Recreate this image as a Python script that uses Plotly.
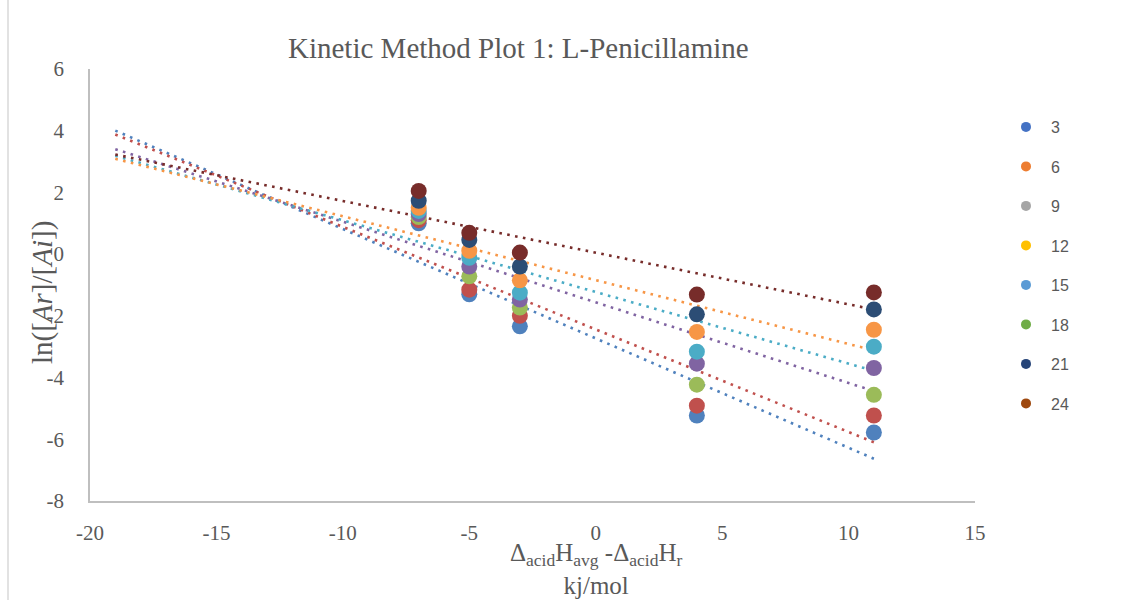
import numpy as np
import plotly.graph_objects as go

x_vals = [-7, -5, -3, 4, 11]
series_names = ["3", "6", "9", "12", "15", "18", "21", "24"]
y_3 = [1.00, -1.30, -2.34, -5.23, -5.78]
y_6 = [1.10, -1.15, -2.00, -4.91, -5.23]
y_9 = [1.20, -0.72, -1.73, -4.23, -4.56]
y_12 = [1.30, -0.40, -1.47, -3.55, -3.69]
y_15 = [1.40, -0.12, -1.25, -3.16, -3.00]
y_18 = [1.50, 0.11, -0.85, -2.52, -2.45]
y_21 = [1.73, 0.46, -0.40, -1.95, -1.79]
y_24 = [2.05, 0.69, 0.05, -1.31, -1.24]
series_y = [y_3, y_6, y_9, y_12, y_15, y_18, y_21, y_24]

x_ticks = [-20, -15, -10, -5, 0, 5, 10, 15]
x_ticktext = ["-20", "-15", "-10", "-5", "0", "5", "10", "15"]
y_ticks = [-8, -6, -4, -2, 0, 2, 4, 6]
y_ticktext = ["-8", "-6", "-4", "-2", "0", "2", "4", "6"]

marker_colors = ["#4F81BD", "#C0504D", "#9BBB59", "#8064A2", "#4BACC6", "#F79646", "#2C4D75", "#772C2A"]
legend_colors = ["#4472C4", "#ED7D31", "#A5A5A5", "#FFC000", "#5B9BD5", "#70AD47", "#264478", "#9E480E"]
has_trend = [True, True, False, True, True, True, False, True]
trend_x = [-19, 11]

fig = go.Figure()

# trendlines (linear fit, extended backward)
for ys, col, t in zip(series_y, marker_colors, has_trend):
    if not t:
        continue
    slope, intercept = np.polyfit(x_vals, ys, 1)
    tx = np.array(trend_x, dtype=float)
    fig.add_trace(go.Scatter(x=tx, y=slope * tx + intercept, mode="lines",
                             line=dict(color=col, width=2.6, dash="2.6px,5.4px"),
                             showlegend=False, hoverinfo="skip"))

for name, ys, col in zip(series_names, series_y, marker_colors):
    fig.add_trace(go.Scatter(x=x_vals, y=ys, mode="markers", name=name,
                             marker=dict(color=col, size=16, line=dict(width=0)),
                             showlegend=False))

for name, col in zip(series_names, legend_colors):
    fig.add_trace(go.Scatter(x=[None], y=[None], mode="markers", name=name,
                             marker=dict(color=col, size=10), legendgroup=name,
                             showlegend=True))

serif = "Liberation Serif"
fig.update_layout(
    width=1141, height=600,
    margin=dict(l=90, r=166, t=69, b=99),
    paper_bgcolor="white", plot_bgcolor="white",
    font=dict(family=serif, color="#595959", size=21),
    legend=dict(x=(1001 - 90) / 885, y=1 - (110 - 69) / 432, xanchor="left", yanchor="top",
                font=dict(family="Liberation Sans", size=16, color="#595959"),
                tracegroupgap=15.7, itemwidth=40, bgcolor="rgba(0,0,0,0)"),
    annotations=[
        dict(text="Kinetic Method Plot 1: L-Penicillamine", xref="paper", yref="paper",
             x=(518 - 90) / 885, y=1 + (69 - 48) / 432, xanchor="center", yanchor="middle",
             showarrow=False, font=dict(family=serif, size=29, color="#595959")),
        dict(text="Δ<sub>acid</sub>H<sub>avg</sub> -Δ<sub>acid</sub>H<sub>r</sub><br>kj/mol",
             xref="paper", yref="paper", x=(596 - 90) / 885, y=-(569 - 501) / 432,
             xanchor="center", yanchor="middle", showarrow=False,
             font=dict(family=serif, size=25, color="#595959")),
        dict(text="ln([<i>Ar</i>]/[<i>Ai</i>])", xref="paper", yref="paper",
             x=-(90 - 42) / 885, y=(501 - 293) / 432, textangle=-90,
             xanchor="center", yanchor="middle", showarrow=False,
             font=dict(family=serif, size=29, color="#595959")),
    ],
    shapes=[dict(type="line", xref="paper", yref="paper",
                 x0=-(90 - 8) / 885, x1=-(90 - 8) / 885, y0=-99 / 432, y1=1 + 69 / 432,
                 line=dict(color="#D9D9D9", width=1.5))],
)
fig.update_xaxes(range=[-20, 15], tickmode="array", tickvals=x_ticks, ticktext=x_ticktext,
                 showgrid=False, zeroline=False, showline=True, linecolor="#BFBFBF",
                 linewidth=1.5, ticks="", ticklabelstandoff=12,
                 tickfont=dict(family=serif, size=21, color="#595959"))
fig.update_yaxes(range=[-8, 6], tickmode="array", tickvals=y_ticks, ticktext=y_ticktext,
                 showgrid=False, zeroline=False, showline=True, linecolor="#BFBFBF",
                 linewidth=1.5, ticks="", ticklabelstandoff=20,
                 tickfont=dict(family=serif, size=21, color="#595959"))

fig.write_html("out.html")
